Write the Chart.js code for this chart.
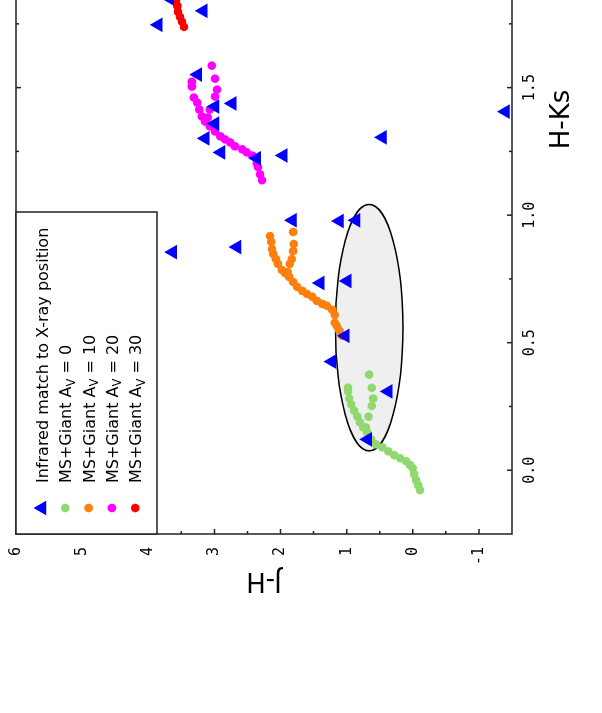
<!DOCTYPE html>
<html>
<head>
<meta charset="utf-8">
<script src="https://cdn.jsdelivr.net/npm/chart.js@4.4.1/dist/chart.umd.min.js"></script>
<style>
html,body{margin:0;padding:0;background:#fff;overflow:hidden;width:602px;height:713px;}
#wrap{position:absolute;left:0;top:0;width:1040px;height:602px;transform-origin:0 0;transform:translate(0px,713px) rotate(-90deg);}
canvas{display:block;}
</style>
</head>
<body>
<div id="wrap"><canvas id="c" width="1040" height="602"></canvas></div>
<script>
// ---- Data (x = H-Ks, y = J-H) ----
const irHK = [1.746, 1.850, 1.875, 1.801, 1.551, 1.426, 1.438, 1.359, 1.301, 1.246, 1.223, 1.234, 1.305, 1.406, 0.980, 0.977, 0.980, 0.855, 0.875, 0.734, 0.742, 0.527, 0.426, 0.309, 0.121];
const irJH = [3.85, 3.68, 3.00, 3.17, 3.25, 2.99, 2.73, 2.99, 3.14, 2.90, 2.36, 1.96, 0.46, -1.40, 1.82, 1.11, 0.86, 3.63, 2.66, 1.40, 0.99, 1.02, 1.22, 0.37, 0.68];

const av0HK = [-0.078, -0.059, -0.039, -0.016, 0.008, 0.020, 0.035, 0.047, 0.059, 0.074, 0.090, 0.102, 0.121, 0.148, 0.168, 0.188, 0.211, 0.234, 0.258, 0.281, 0.309, 0.324, 0.168, 0.210, 0.252, 0.281, 0.323, 0.375];
const av0JH = [-0.11, -0.08, -0.05, -0.02, 0.00, 0.04, 0.10, 0.19, 0.28, 0.37, 0.46, 0.56, 0.63, 0.69, 0.75, 0.80, 0.84, 0.89, 0.93, 0.96, 0.98, 0.98, 0.71, 0.67, 0.62, 0.60, 0.62, 0.66];

const av10HK = [0.527, 0.547, 0.566, 0.578, 0.609, 0.629, 0.645, 0.652, 0.664, 0.680, 0.691, 0.703, 0.719, 0.738, 0.758, 0.773, 0.785, 0.809, 0.828, 0.848, 0.867, 0.895, 0.918, 0.777, 0.809, 0.828, 0.859, 0.887, 0.934];
const av10JH = [1.07, 1.11, 1.15, 1.18, 1.18, 1.22, 1.30, 1.37, 1.45, 1.52, 1.60, 1.67, 1.75, 1.81, 1.87, 1.93, 1.98, 2.04, 2.07, 2.11, 2.13, 2.14, 2.16, 1.89, 1.86, 1.83, 1.81, 1.80, 1.81];

const av20HK = [1.137, 1.160, 1.188, 1.203, 1.234, 1.246, 1.258, 1.270, 1.285, 1.297, 1.309, 1.328, 1.348, 1.367, 1.387, 1.414, 1.441, 1.461, 1.504, 1.523, 1.383, 1.414, 1.465, 1.492, 1.535, 1.586];
const av20JH = [2.28, 2.31, 2.34, 2.36, 2.43, 2.51, 2.58, 2.69, 2.76, 2.84, 2.91, 2.99, 3.07, 3.14, 3.19, 3.23, 3.26, 3.31, 3.34, 3.34, 3.10, 3.07, 2.99, 2.96, 2.99, 3.04];

const av30HK = [1.738, 1.758, 1.777, 1.797, 1.820, 1.840];
const av30JH = [3.46, 3.49, 3.52, 3.55, 3.56, 3.58];

const hkTicks = [0, 0.5, 1.0, 1.5, 2.0, 2.5, 3.0];
const hkMinor = [0.25, 0.75, 1.25, 1.75, 2.25, 2.75];
const jhTicks = [-1, 0, 1, 2, 3, 4, 5, 6];
const jhMinor = [-0.5, 0.5, 1.5, 2.5, 3.5, 4.5, 5.5];

const ellipseCenter = [0.559, 0.66];   // [H-Ks, J-H]
const ellipseRadius = [0.483, 0.51];   // [H-Ks, J-H]

const legendLabels = ['Infrared match to X-ray position', 'MS+Giant A|V| = 0', 'MS+Giant A|V| = 10', 'MS+Giant A|V| = 20', 'MS+Giant A|V| = 30'];
const seriesColors = ['#0000ff', '#8fd970', '#ff7f0e', '#ff00ff', '#ff0000'];

const toPts = (xs, ys) => xs.map((x, i) => ({x: x, y: ys[i]}));

const ellipsePlugin = {
  id: 'ellipse',
  beforeDatasetsDraw(chart) {
    const {ctx, scales: {x, y}} = chart;
    const cx = x.getPixelForValue(ellipseCenter[0]);
    const cy = y.getPixelForValue(ellipseCenter[1]);
    const rx = Math.abs(x.getPixelForValue(ellipseCenter[0] + ellipseRadius[0]) - cx);
    const ry = Math.abs(y.getPixelForValue(ellipseCenter[1] + ellipseRadius[1]) - cy);
    ctx.save();
    ctx.beginPath();
    ctx.ellipse(cx, cy, rx, ry, 0, 0, Math.PI * 2);
    ctx.fillStyle = '#efefef';
    ctx.fill();
    ctx.lineWidth = 1.5;
    ctx.strokeStyle = '#000';
    ctx.stroke();
    ctx.restore();
  }
};

const framePlugin = {
  id: 'frame',
  afterDatasetsDraw(chart) {
    const {ctx, chartArea: a, scales: {x, y}} = chart;
    ctx.save();
    ctx.strokeStyle = '#222';
    ctx.lineWidth = 1.5;
    ctx.strokeRect(a.left, a.top, a.right - a.left, a.bottom - a.top);
    ctx.beginPath();
    const tx = (v, len) => {
      const p = x.getPixelForValue(v);
      ctx.moveTo(p, a.bottom); ctx.lineTo(p, a.bottom - len);
      ctx.moveTo(p, a.top); ctx.lineTo(p, a.top + len);
    };
    const ty = (v, len) => {
      const p = y.getPixelForValue(v);
      ctx.moveTo(a.left, p); ctx.lineTo(a.left + len, p);
      ctx.moveTo(a.right, p); ctx.lineTo(a.right - len, p);
    };
    hkTicks.forEach(v => tx(v, 5));
    hkMinor.forEach(v => tx(v, 3));
    jhTicks.forEach(v => ty(v, 5));
    jhMinor.forEach(v => ty(v, 3));
    ctx.stroke();
    ctx.restore();
  }
};

const legendPlugin = {
  id: 'legendBox',
  afterDraw(chart) {
    const {ctx, chartArea: a} = chart;
    const x0 = a.left, y0 = a.top, w = 322, h = 141;
    ctx.save();
    ctx.fillStyle = '#fff';
    ctx.fillRect(x0, y0, w, h);
    ctx.strokeStyle = '#222';
    ctx.lineWidth = 1.5;
    ctx.strokeRect(x0, y0, w, h);
    legendLabels.forEach((lab, i) => {
      const cy = y0 + 26 + i * 23.3;
      const cx = x0 + 26;
      ctx.fillStyle = seriesColors[i];
      ctx.beginPath();
      if (i === 0) {
        const r = 8.5;
        ctx.moveTo(cx, cy - r);
        ctx.lineTo(cx + r * Math.sin(2 * Math.PI / 3), cy - r * Math.cos(2 * Math.PI / 3));
        ctx.lineTo(cx + r * Math.sin(4 * Math.PI / 3), cy - r * Math.cos(4 * Math.PI / 3));
        ctx.closePath();
      } else {
        ctx.arc(cx, cy, 4.3, 0, Math.PI * 2);
      }
      ctx.fill();
      ctx.fillStyle = '#000';
      ctx.textBaseline = 'alphabetic';
      ctx.textAlign = 'left';
      const parts = lab.split('|');
      let tx = x0 + 51;
      const base = cy + 6;
      parts.forEach((p, k) => {
        if (k % 2 === 1) {
          ctx.font = '11.5px "DejaVu Sans"';
          ctx.fillText(p, tx, base + 3.5);
        } else {
          ctx.font = '16px "DejaVu Sans"';
          ctx.fillText(p, tx, base);
        }
        tx += ctx.measureText(p).width;
      });
    });
    ctx.restore();
  }
};

const mk = (label, pts, color, style, r) => ({
  label: label, data: pts, pointStyle: style, pointRadius: r, pointHoverRadius: r,
  backgroundColor: color, borderColor: color, borderWidth: 0, showLine: false
});

new Chart(document.getElementById('c'), {
  type: 'scatter',
  data: {
    datasets: [
      mk('Infrared match to X-ray position', toPts(irHK, irJH), seriesColors[0], 'triangle', 8.5),
      mk('Av=0', toPts(av0HK, av0JH), seriesColors[1], 'circle', 4.3),
      mk('Av=10', toPts(av10HK, av10JH), seriesColors[2], 'circle', 4.3),
      mk('Av=20', toPts(av20HK, av20JH), seriesColors[3], 'circle', 4.3),
      mk('Av=30', toPts(av30HK, av30JH), seriesColors[4], 'circle', 4.3)
    ]
  },
  options: {
    responsive: false,
    animation: false,
    devicePixelRatio: 1,
    layout: {padding: {left: 0, top: 16, right: 32, bottom: 0}},
    plugins: {legend: {display: false}, tooltip: {enabled: false}},
    scales: {
      x: {
        type: 'linear', position: 'bottom', min: -0.25, max: 3.0,
        grid: {display: false, drawTicks: false}, border: {display: false},
        afterBuildTicks: s => { s.ticks = hkTicks.map(v => ({value: v})); },
        afterFit: s => { s.height = 90; },
        ticks: {padding: 9, autoSkip: false, maxRotation: 0, color: '#000',
          font: {family: 'DejaVu Sans Mono', size: 15},
          callback: v => Number(v).toFixed(1)},
        title: {display: true, text: 'H-Ks', color: '#000',
          font: {family: 'DejaVu Sans', size: 26}, padding: {top: 0, bottom: 24}}
      },
      y: {
        type: 'linear', position: 'left', min: -1.5, max: 6,
        grid: {display: true, drawOnChartArea: false, drawTicks: true, tickLength: 13,
          color: 'rgba(0,0,0,0)', tickColor: 'rgba(0,0,0,0)'},
        border: {display: false},
        afterBuildTicks: s => { s.ticks = jhTicks.map(v => ({value: v})); },
        afterFit: s => { s.width = 179; },
        ticks: {padding: 0, autoSkip: false, color: '#000',
          font: {family: 'DejaVu Sans Mono', size: 15},
          callback: v => String(v)},
        title: {display: true, text: 'J-H', color: '#000',
          font: {family: 'DejaVu Sans', size: 26}, padding: {top: 118, bottom: 0}}
      }
    }
  },
  plugins: [ellipsePlugin, framePlugin, legendPlugin]
});
</script>
</body>
</html>
